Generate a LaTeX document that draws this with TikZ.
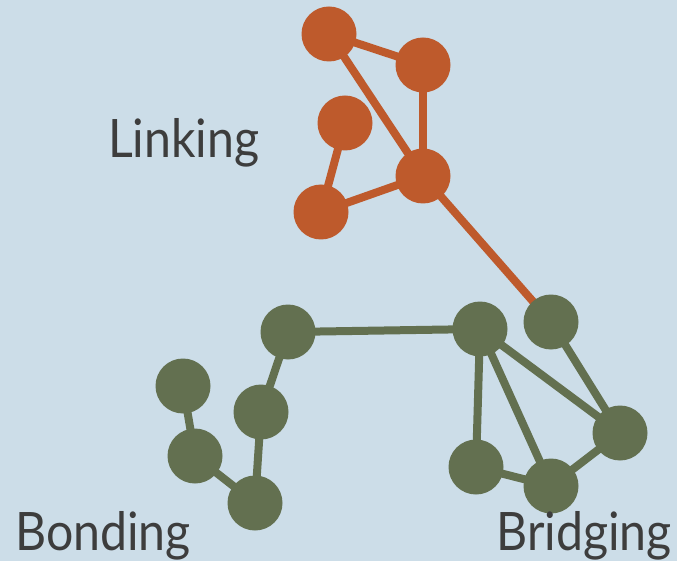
\documentclass[tikz,border=0pt]{standalone}
\usepackage{fontspec}
\setmainfont{Lato}
\definecolor{bgc}{HTML}{CCDDE8}
\definecolor{orn}{HTML}{BE5A2C}
\definecolor{grn}{HTML}{637050}
\definecolor{txt}{HTML}{3D3D3D}
\pgfdeclarelayer{bg}
\pgfdeclarelayer{edges}
\pgfsetlayers{bg,edges,main}
\begin{document}
\begin{tikzpicture}[x=1pt,y=-1pt,
  onode/.style={circle,fill=orn,inner sep=0pt,minimum size=55pt},
  gnode/.style={circle,fill=grn,inner sep=0pt,minimum size=55pt},
  oedge/.style={draw=orn,line width=8pt},
  gedge/.style={draw=grn,line width=8pt},
  lab/.style={text=txt,font=\fontsize{53}{60}\selectfont,inner sep=0pt,xscale=0.91}]
\useasboundingbox (0,0) rectangle (677,561);
% orange
\node[onode] (o1) at (329,34) {};
\node[onode] (o2) at (423,65) {};
\node[onode] (o3) at (345,123) {};
\node[onode] (o4) at (423,176) {};
\node[onode] (o5) at (321,212) {};
% green
\node[gnode] (g1) at (288,332) {};
\node[gnode] (g2) at (480,329) {};
\node[gnode] (g3) at (551,322) {};
\node[gnode] (g4) at (183,386) {};
\node[gnode] (g5) at (261,412) {};
\node[gnode] (g6) at (195,456) {};
\node[gnode] (g7) at (255,503) {};
\node[gnode] (g8) at (620,433) {};
\node[gnode] (g9) at (476,467) {};
\node[gnode] (g10) at (551,486) {};
\begin{pgfonlayer}{bg}
\fill[bgc] (0,0) rectangle (677,561);
\end{pgfonlayer}
\begin{pgfonlayer}{edges}
\path[oedge] (o1.center) -- (o2.center);
\path[oedge] (o1.center) -- (o4.center);
\path[oedge] (o2.center) -- (o4.center);
\path[oedge] (o3.center) -- (o5.center);
\path[oedge] (o5.center) -- (o4.center);
\path[oedge] (o4.center) -- (g3.center);
\path[gedge] (g1.center) -- (g2.center);
\path[gedge] (g1.center) -- (g5.center);
\path[gedge] (g5.center) -- (g7.center);
\path[gedge] (g4.center) -- (g6.center);
\path[gedge] (g6.center) -- (g7.center);
\path[gedge] (g2.center) -- (g9.center);
\path[gedge] (g2.center) -- (g10.center);
\path[gedge] (g2.center) -- (g8.center);
\path[gedge] (g3.center) -- (g8.center);
\path[gedge] (g8.center) -- (g10.center);
\path[gedge] (g9.center) -- (g10.center);
\end{pgfonlayer}
\node[lab,anchor=base west] (tl) at (108,158) {Linking};
\node[lab,anchor=base west] (tb) at (15,550) {Bonding};
\node[lab,anchor=base east] (tr) at (672,550) {Bridging};
\end{tikzpicture}
\end{document}
